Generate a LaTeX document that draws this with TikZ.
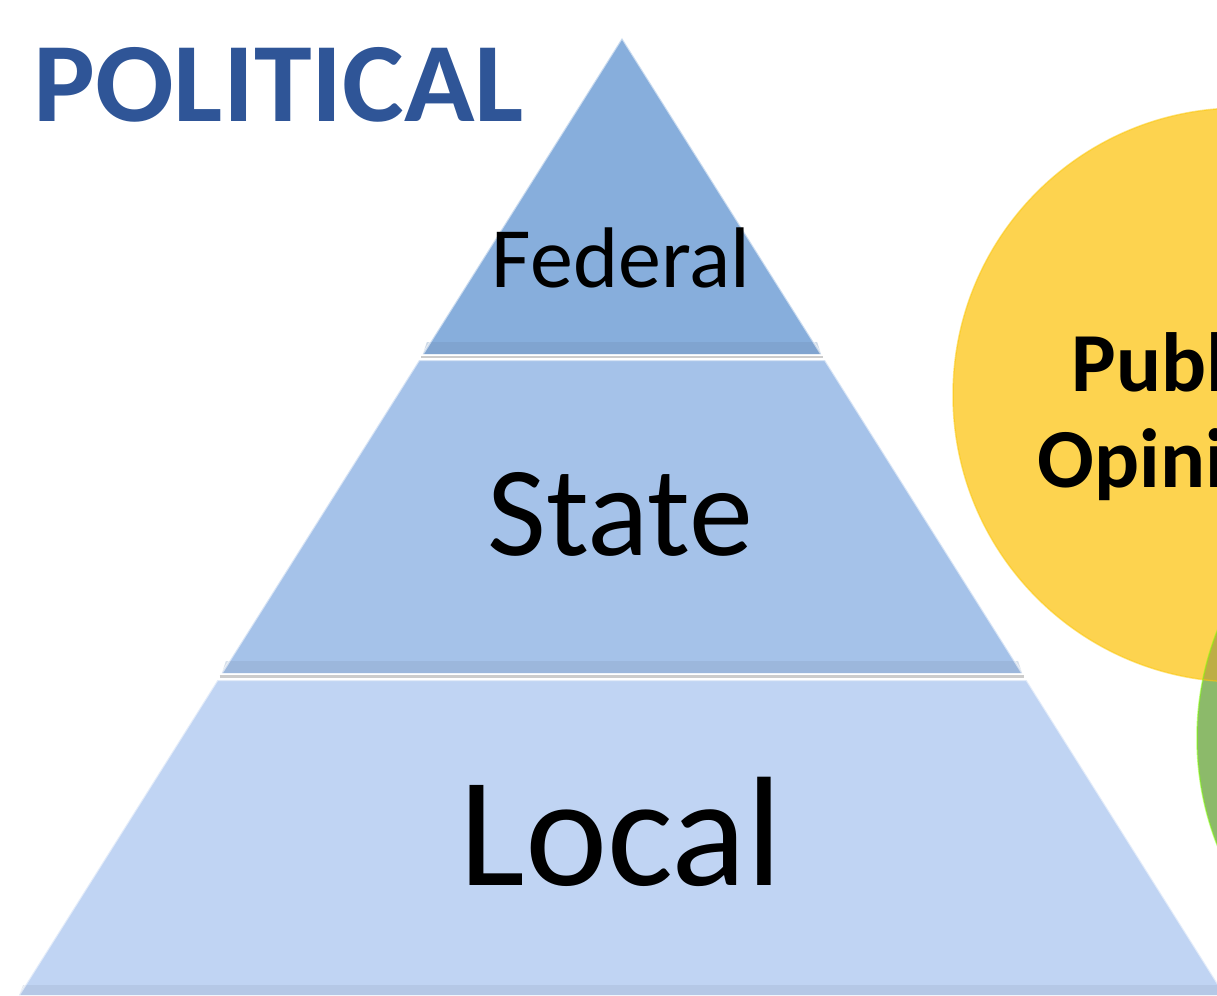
\documentclass[tikz,border=0pt]{standalone}
\usepackage{fontspec}
\setmainfont{Carlito}
\usetikzlibrary{calc}

\definecolor{titleblue}{HTML}{2F5597}
\definecolor{tierA}{HTML}{87AEDC}
\definecolor{tierB}{HTML}{A5C2E9}
\definecolor{tierC}{HTML}{C0D4F3}
\definecolor{opinionyellow}{HTML}{FDD34F}
\definecolor{mediagreen}{HTML}{8CBA6A}
\definecolor{overlapolive}{HTML}{BDAE45}

\begin{document}
\begin{tikzpicture}[x=1pt, y=-1pt,
    tierlabel/.style={anchor=base, text=black},
    seam/.style={draw=gray!40, line width=2.5pt}]
  %--- Rahmen (Bildgroesse)
  \useasboundingbox (0,0) rectangle (1217,995);

  %--- Pyramide: Eckpunkte der drei Stufen
  \coordinate (apex) at (622,38);
  \coordinate (fedL) at (422.9,354);  \coordinate (fedR) at (821.1,354);
  \coordinate (staTL) at (419.1,360); \coordinate (staTR) at (824.9,360);
  \coordinate (staBL) at (221.9,673); \coordinate (staBR) at (1022.1,673);
  \coordinate (locTL) at (217.5,680); \coordinate (locTR) at (1026.5,680);
  \coordinate (locBL) at (19.1,995);  \coordinate (locBR) at (1224.9,995);

  % Stufen
  \fill[tierA] (apex)--(fedR)--(fedL)--cycle;
  \fill[tierB] (staTL)--(staTR)--(staBR)--(staBL)--cycle;
  \fill[tierC] (locTL)--(locTR)--(locBR)--(locBL)--cycle;

  % dunklere Unterkanten
  \fill[tierA!85!black, opacity=0.35] ($(fedL)+(4,-12)$)--($(fedR)+(-4,-12)$)--(fedR)--(fedL)--cycle;
  \fill[tierB!85!black, opacity=0.35] ($(staBL)+(4,-12)$)--($(staBR)+(-4,-12)$)--(staBR)--(staBL)--cycle;
  \fill[tierC!85!black, opacity=0.35] ($(locBL)+(4,-10)$)--($(locBR)+(-4,-10)$)--(locBR)--(locBL)--cycle;

  % helle Seitenkanten
  \draw[white, opacity=0.55, line width=2pt] (fedL)--(apex)--(fedR);
  \draw[white, opacity=0.55, line width=2pt] (staBL)--(staTL)--(staTR)--(staBR);
  \draw[white, opacity=0.55, line width=2pt] (locBL)--(locTL)--(locTR)--(locBR);

  % Fugen zwischen den Stufen
  \draw[seam] ($(fedL)!0.5!(staTL)$) -- ($(fedR)!0.5!(staTR)$);
  \draw[seam] ($(staBL)!0.5!(locTL)$) -- ($(staBR)!0.5!(locTR)$);

  %--- Kreise rechts
  \coordinate (opinionC) at (1240,395);
  \coordinate (mediaC) at (1490,738);
  \fill[mediagreen] (mediaC) circle (293);
  \fill[opinionyellow] (opinionC) circle (287);
  \begin{scope}
    \clip (opinionC) circle (287);
    \fill[overlapolive] (mediaC) circle (293);
  \end{scope}
  \draw[yellow!60!orange, opacity=0.5, line width=1.5pt] (opinionC) circle (287);
  \draw[green!50!yellow, opacity=0.5, line width=1.5pt] (mediaC) circle (293);

  %--- Beschriftungen
  \node[tierlabel, font=\fontsize{86}{100}\selectfont] (federal) at (621,287) {Federal};
  \node[tierlabel, font=\fontsize{128}{150}\selectfont] (state) at (620,555) {State};
  \node[tierlabel, font=\fontsize{156}{180}\selectfont] (local) at (621,885) {Local};

  \node[anchor=base west, inner sep=0pt, text=titleblue, xscale=1.03,
        font=\fontsize{113}{130}\selectfont\bfseries] (title) at (33,122) {POLITICAL};

  \node[tierlabel, font=\fontsize{84}{96}\selectfont\bfseries] (public) at (1177,391) {Public};
  \node[tierlabel, font=\fontsize{84}{96}\selectfont\bfseries] (opinion) at (1177,487) {Opinion};
\end{tikzpicture}
\end{document}
